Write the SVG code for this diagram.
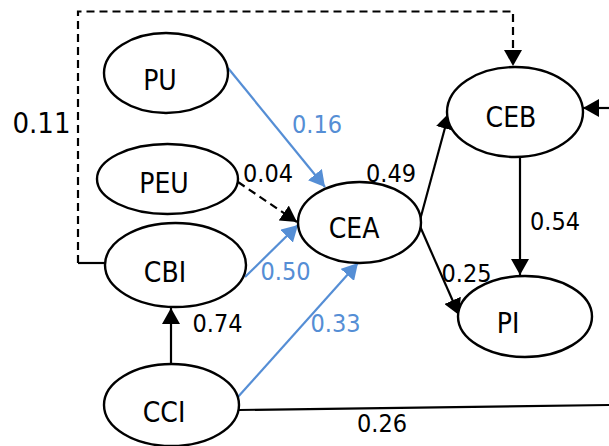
<svg xmlns="http://www.w3.org/2000/svg" width="609" height="446" viewBox="0 0 609 446">
<style>
.node ellipse{fill:#fff;stroke:#000;stroke-width:2.4}
text{font-family:"DejaVu Sans Condensed","DejaVu Sans","Liberation Sans",sans-serif;font-stretch:condensed;text-anchor:middle}
.lbl{font-size:28px;fill:#000}
.num{font-size:25px;fill:#000}
.blue{fill:#558ed5}
.k{stroke:#000;stroke-width:2.2;fill:none}
.b{stroke:#558ed5;stroke-width:2.2;fill:none}
.d{stroke-dasharray:8 5}
</style>
<defs>
<marker id="ak" markerUnits="userSpaceOnUse" markerWidth="18" markerHeight="18" refX="16" refY="9" orient="auto"><path d="M0,0 L16,9 L0,18 z" fill="#000"/></marker>
<marker id="ab" markerUnits="userSpaceOnUse" markerWidth="18" markerHeight="18" refX="16" refY="9" orient="auto"><path d="M0,0 L16,9 L0,18 z" fill="#558ed5"/></marker>
</defs>
<g id="connectors">
<path class="k" d="M105,263 L78,263"/>
<path class="k d" d="M78,263 L78,11.5 L513,11.5 L513,66" marker-end="url(#ak)"/>
<path class="b" d="M228,68 L325,187" marker-end="url(#ab)"/>
<path class="k d" d="M238,182 L297,222" marker-end="url(#ak)"/>
<path class="b" d="M245,277 L298,225" marker-end="url(#ab)"/>
<path class="b" d="M237,398 L358,263" marker-end="url(#ab)"/>
<path class="k" d="M171,364 L171,308" marker-end="url(#ak)"/>
<path class="k" d="M420,220 L449,113" marker-end="url(#ak)"/>
<path class="k" d="M419,224 L459,315" marker-end="url(#ak)"/>
<path class="k" d="M520,157 L520,275" marker-end="url(#ak)"/>
<path class="k" d="M609,108 L583,108" marker-end="url(#ak)"/>
<path class="k" d="M239,410 L609,405"/>
<text class="num" x="41.5" y="133" style="font-size:29px">0.11</text>
<text class="num blue" x="317" y="133">0.16</text>
<text class="num" x="268" y="182">0.04</text>
<text class="num" x="391" y="182">0.49</text>
<text class="num blue" x="285.5" y="280">0.50</text>
<text class="num" x="555" y="230">0.54</text>
<text class="num" x="466.5" y="282">0.25</text>
<text class="num" x="217.5" y="332">0.74</text>
<text class="num blue" x="335.5" y="332">0.33</text>
<text class="num" x="382" y="432">0.26</text>
</g>
<g id="PU" class="node"><ellipse cx="166" cy="73" rx="62" ry="40"/><text class="lbl" x="160" y="90">PU</text></g>
<g id="PEU" class="node"><ellipse cx="167.5" cy="179" rx="70.5" ry="35"/><text class="lbl" x="164" y="193">PEU</text></g>
<g id="CBI" class="node"><ellipse cx="175.5" cy="265" rx="70.5" ry="42"/><text class="lbl" x="165" y="282">CBI</text></g>
<g id="CCI" class="node"><ellipse cx="171.5" cy="405" rx="67.5" ry="41"/><text class="lbl" x="164" y="422">CCI</text></g>
<g id="CEA" class="node"><ellipse cx="359.5" cy="222.5" rx="61.5" ry="40.5"/><text class="lbl" x="354" y="238">CEA</text></g>
<g id="CEB" class="node"><ellipse cx="515" cy="112" rx="68" ry="45"/><text class="lbl" x="511" y="127">CEB</text></g>
<g id="PI" class="node"><ellipse cx="525" cy="316.5" rx="67" ry="40.5"/><text class="lbl" x="508" y="333">PI</text></g>
</svg>
